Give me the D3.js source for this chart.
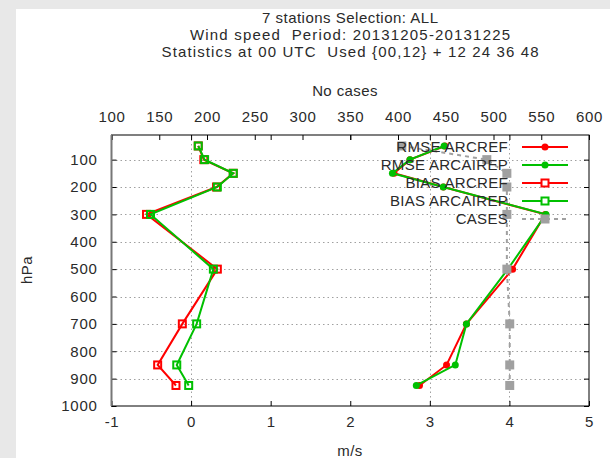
<!DOCTYPE html>
<html>
<head>
<meta charset="utf-8">
<script src="https://cdn.jsdelivr.net/npm/d3@7/dist/d3.min.js"></script>
<style>
  html, body { margin: 0; padding: 0; background: #fff; }
  svg { display: block; }
  text { font-family: "Liberation Sans", Arial, sans-serif; fill: #2a2a2a; white-space: pre; }
</style>
</head>
<body>
<svg id="chart" width="610" height="458"></svg>
<script>
// Pressure levels (hPa)
const levels = [50, 100, 150, 200, 300, 500, 700, 850, 925];

// Wind speed statistics (m/s)
const rmseArcref   = [3.19, 2.75, 2.55, 3.17, 4.45, 4.04, 3.46, 3.21, 2.87];
const rmseArcairep = [3.18, 2.75, 2.53, 3.17, 4.46, 3.98, 3.46, 3.32, 2.83];
const biasArcref   = [0.09, 0.16, 0.53, 0.32, -0.56, 0.33, -0.11, -0.42, -0.19];
const biasArcairep = [0.09, 0.17, 0.53, 0.33, -0.51, 0.28, 0.07, -0.18, -0.03];

// Number of cases per level (top axis)
const cases = [404, 493, 514, 514, 514, 514, 517, 517, 517];

// Axis ticks
const xTicks = [-1, 0, 1, 2, 3, 4, 5];
const x2Ticks = [100, 150, 200, 250, 300, 350, 400, 450, 500, 550, 600];
const yTicks = [100, 200, 300, 400, 500, 600, 700, 800, 900, 1000];
const xGrid = [0, 3, 4];

const titleLines = [
  "7 stations Selection: ALL",
  "Wind speed  Period: 20131205-20131225",
  "Statistics at 00 UTC  Used {00,12} + 12 24 36 48"
];
const titleWidths = [176, 320, 377];

const seriesList = [
  { name: "RMSE ARCREF",   values: rmseArcref,   color: "#ff0000", marker: "circle" },
  { name: "RMSE ARCAIREP", values: rmseArcairep, color: "#00c000", marker: "circle" },
  { name: "BIAS ARCREF",   values: biasArcref,   color: "#ff0000", marker: "square" },
  { name: "BIAS ARCAIREP", values: biasArcairep, color: "#00c000", marker: "square" }
];

const svg = d3.select("#chart");
const W = 610, H = 458;
const L = 111.5, R = 589, T = 135, B = 406;
const FS = 15;

// Page background strips
svg.append("rect").attr("width", W).attr("height", H).attr("fill", "#fff");
svg.append("rect").attr("x", 0).attr("y", 0).attr("width", W).attr("height", 9).attr("fill", "#e8e8e8");
svg.append("rect").attr("x", 0).attr("y", 0).attr("width", 16).attr("height", H).attr("fill", "#e8e8e8");

const x = d3.scaleLinear().domain([-1, 5]).range([L, R]);
const x2 = d3.scaleLinear().domain([100, 600]).range([L, R]);
const y = d3.scaleLinear().domain([1000, 10]).range([B, T]);

// Grid
const grid = svg.append("g").attr("stroke", "#a0a0a0").attr("stroke-width", 1).attr("stroke-dasharray", "1.5,3");
grid.selectAll("line.h").data(yTicks.filter(d => d < 1000)).join("line")
  .attr("x1", L).attr("x2", R)
  .attr("y1", d => Math.round(y(d)) + 0.5).attr("y2", d => Math.round(y(d)) + 0.5);
grid.selectAll("line.v").data(xGrid).join("line")
  .attr("class", "v")
  .attr("x1", d => Math.round(x(d)) + 0.5).attr("x2", d => Math.round(x(d)) + 0.5)
  .attr("y1", T).attr("y2", B);

// Axes with inward ticks
const tickLen = 5;
const plain = d => String(d);
const axisBottom = d3.axisBottom(x).tickValues(xTicks).tickSizeInner(-tickLen).tickSizeOuter(0).tickPadding(10).tickFormat(plain);
const axisTopMirror = d3.axisTop(x).tickValues(xTicks).tickSizeInner(-tickLen).tickSizeOuter(0).tickFormat("");
const axisTop = d3.axisTop(x2).tickValues(x2Ticks).tickSizeInner(-tickLen).tickSizeOuter(0).tickPadding(13).tickFormat(plain);
const axisLeft = d3.axisLeft(y).tickValues(yTicks).tickSizeInner(-tickLen).tickSizeOuter(0).tickPadding(14).tickFormat(plain);
const axisRight = d3.axisRight(y).tickValues(yTicks).tickSizeInner(-tickLen).tickSizeOuter(0).tickFormat("");

function styleAxis(g) {
  g.select(".domain").remove();
  g.selectAll(".tick line").attr("stroke", "#000");
  g.selectAll(".tick text").attr("font-size", FS).attr("fill", "#2a2a2a")
    .attr("letter-spacing", "0.7px")
    .attr("font-family", "Liberation Sans, Arial, sans-serif");
}
svg.append("g").attr("transform", `translate(0,${B})`).call(axisBottom).call(styleAxis);
svg.append("g").attr("transform", `translate(0,${T})`).call(axisTopMirror).call(styleAxis);
svg.append("g").attr("transform", `translate(0,${T})`).call(axisTop).call(styleAxis);
svg.append("g").attr("transform", `translate(${L},0)`).call(axisLeft).call(styleAxis);
svg.append("g").attr("transform", `translate(${R},0)`).call(axisRight).call(styleAxis);

// Plot border
svg.append("rect").attr("x", L).attr("y", T).attr("width", R - L).attr("height", B - T)
  .attr("fill", "none").attr("stroke", "#000").attr("stroke-width", 1);
svg.append("line").attr("x1", L).attr("x2", L).attr("y1", T).attr("y2", B)
  .attr("stroke", "#777").attr("stroke-width", 2);

// Series lines and markers
const line = d3.line().x(d => x(d.v)).y(d => y(d.p));
seriesList.forEach(s => {
  const pts = levels.map((p, i) => ({ p, v: s.values[i] }));
  svg.append("path").datum(pts).attr("d", line)
    .attr("fill", "none").attr("stroke", s.color).attr("stroke-width", 2);
  if (s.marker === "circle") {
    svg.selectAll(null).data(pts).join("circle")
      .attr("cx", d => x(d.v)).attr("cy", d => y(d.p)).attr("r", 3.5).attr("fill", s.color);
  } else {
    svg.selectAll(null).data(pts).join("rect")
      .attr("x", d => x(d.v) - 3.5).attr("y", d => y(d.p) - 3.5)
      .attr("width", 7).attr("height", 7)
      .attr("fill", "none").attr("stroke", s.color).attr("stroke-width", 2);
  }
});

// Cases on the top axis
const casePts = levels.map((p, i) => ({ p, v: cases[i] }));
const caseLine = d3.line().x(d => x2(d.v)).y(d => y(d.p));
svg.append("path").datum(casePts).attr("d", caseLine)
  .attr("fill", "none").attr("stroke", "#a0a0a0").attr("stroke-width", 2).attr("stroke-dasharray", "4,4");
svg.selectAll(null).data(casePts).join("rect")
  .attr("x", d => x2(d.v) - 4.5).attr("y", d => y(d.p) - 4.5)
  .attr("width", 9).attr("height", 9).attr("fill", "#a0a0a0");

// Legend
const legendItems = seriesList.concat([{ name: "CASES", color: "#a0a0a0", marker: "gsquare" }]);
const lg = svg.append("g");
legendItems.forEach((s, i) => {
  const ly = 147 + i * 18;
  lg.append("text").attr("x", 508).attr("y", ly).attr("dy", "0.36em")
    .attr("text-anchor", "end").attr("font-size", FS).attr("letter-spacing", "0.3px").text(s.name);
  lg.append("line").attr("x1", 522).attr("x2", 568).attr("y1", ly).attr("y2", ly)
    .attr("stroke", s.color).attr("stroke-width", 2)
    .attr("stroke-dasharray", s.marker === "gsquare" ? "4,4" : null);
  if (s.marker === "circle") {
    lg.append("circle").attr("cx", 545).attr("cy", ly).attr("r", 3.5).attr("fill", s.color);
  } else if (s.marker === "square") {
    lg.append("rect").attr("x", 541.5).attr("y", ly - 3.5).attr("width", 7).attr("height", 7)
      .attr("fill", "#fff").attr("stroke", s.color).attr("stroke-width", 2);
  } else {
    lg.append("rect").attr("x", 540.5).attr("y", ly - 4.5).attr("width", 9).attr("height", 9)
      .attr("fill", s.color);
  }
});

// Titles and axis labels
titleLines.forEach((t, i) => {
  svg.append("text").attr("x", 350).attr("y", 22.5 + i * 17).attr("text-anchor", "middle")
    .attr("font-size", FS).attr("textLength", titleWidths[i]).attr("lengthAdjust", "spacing").text(t);
});
svg.append("text").attr("x", 345).attr("y", 95.5).attr("text-anchor", "middle").attr("font-size", FS)
  .attr("letter-spacing", "0.4px").text("No cases");
svg.append("text").attr("x", 350).attr("y", 456).attr("text-anchor", "middle").attr("font-size", FS)
  .attr("letter-spacing", "0.4px").text("m/s");
svg.append("text").attr("transform", "translate(32,270) rotate(-90)").attr("text-anchor", "middle")
  .attr("font-size", FS).attr("letter-spacing", "0.4px").text("hPa");
</script>
</body>
</html>
